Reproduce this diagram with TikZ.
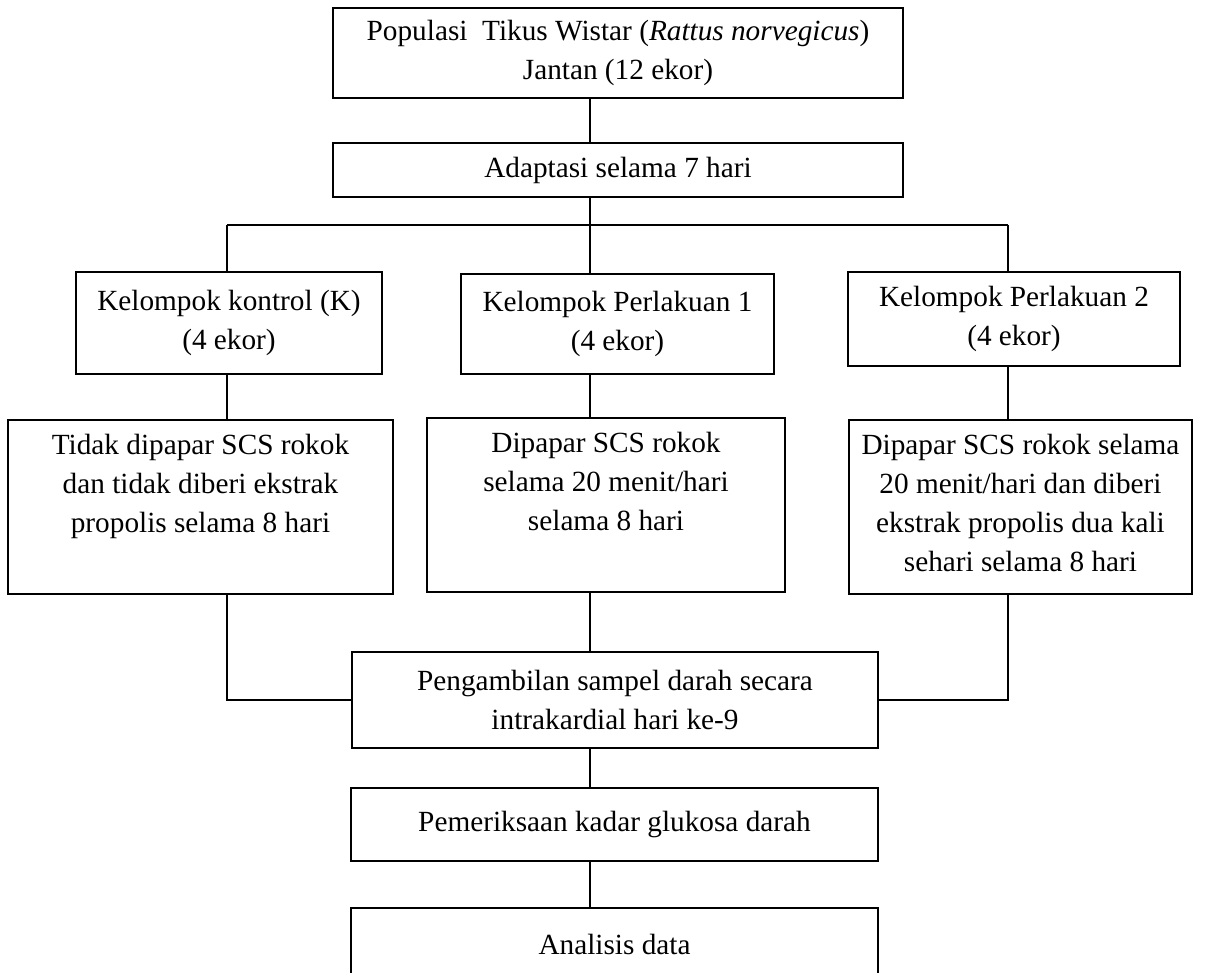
\documentclass[tikz,border=0pt]{standalone}
\usepackage{fontspec}
\setmainfont{Liberation Serif}

\begin{document}
\begin{tikzpicture}[
        x=0.41pt, y=-0.41pt, % satuan = piksel gambar
        line width=0.8pt,
        font=\fontsize{12}{16}\selectfont,
        kotak/.style={draw, rectangle, align=flush center, inner sep=3pt}, % kotak biasa
        perlakuan/.style={kotak, anchor=north, inner ysep=5pt, text height=9pt, text depth=52.3pt}, % teks di atas
    ]
    \useasboundingbox (0,0) rectangle (1207,973);

    \node[kotak, minimum width=233.7pt, minimum height=36.9pt] (populasi) at (618,53)
        {Populasi\ \ Tikus Wistar (\textit{Rattus norvegicus})\\Jantan (12 ekor)};
    \node[kotak, minimum width=233.7pt, minimum height=22.1pt] (adaptasi) at (618,170) {Adaptasi selama 7 hari};

    % tiga kelompok
    \node[kotak, minimum width=125.5pt, minimum height=41.8pt] (kontrol) at (229,323) {Kelompok kontrol (K)\\(4 ekor)};
    \node[kotak, minimum width=128.3pt, minimum height=41pt] (kel1) at (617.5,324) {Kelompok Perlakuan 1\\(4 ekor)};
    \node[kotak, minimum width=136.1pt, minimum height=38.5pt] (kel2) at (1014,319) {Kelompok Perlakuan 2\\(4 ekor)};

    \node[perlakuan, text width=151.9pt] (tidak) at (200.5,419)
        {Tidak dipapar SCS rokok\\dan tidak diberi ekstrak\\propolis selama 8 hari};
    \node[perlakuan, text width=140.8pt] (papar1) at (606,417)
        {Dipapar SCS rokok\\selama 20 menit/hari\\selama 8 hari};
    \node[perlakuan, text width=134.6pt] (papar2) at (1020.5,419)
        {Dipapar SCS rokok selama\\20 menit/hari dan diberi\\ekstrak propolis dua kali\\sehari selama 8 hari};

    \node[kotak, minimum width=215.7pt, minimum height=39.4pt] (sampel) at (615,700)
        {Pengambilan sampel darah secara\\intrakardial hari ke-9};
    \node[kotak, minimum width=216.1pt, minimum height=29.9pt] (periksa) at (614.5,824.5) {Pemeriksaan kadar glukosa darah};
    \node[kotak, minimum width=216.1pt, minimum height=29.9pt] (analisis) at (614.5,944.5) {Analisis data};

    % garis cabang
    \coordinate (cabang) at (590,225);
    \coordinate (kiri) at (227,225);
    \coordinate (kanan) at (1008,225);

    \draw (populasi.south -| cabang) -- (adaptasi.north -| cabang);
    \draw (adaptasi.south -| cabang) -- (cabang);
    \draw (kiri) -- (kanan);
    \draw (kiri) -- (kontrol.north -| kiri);
    \draw (cabang) -- (kel1.north -| cabang);
    \draw (kanan) -- (kel2.north -| kanan);
    \draw (kontrol.south -| kiri) -- (tidak.north -| kiri);
    \draw (kel1.south -| cabang) -- (papar1.north -| cabang);
    \draw (kel2.south -| kanan) -- (papar2.north -| kanan);
    \draw (tidak.south -| kiri) |- (sampel.west);
    \draw (papar2.south -| kanan) |- (sampel.east);
    \draw (papar1.south -| cabang) -- (sampel.north -| cabang);
    \draw (sampel.south -| cabang) -- (periksa.north -| cabang);
    \draw (periksa.south -| cabang) -- (analisis.north -| cabang);
\end{tikzpicture}
\end{document}
